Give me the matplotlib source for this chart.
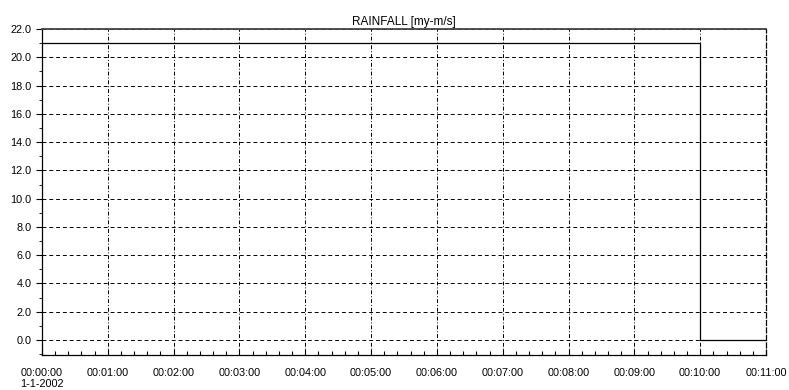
import numpy as np
import matplotlib.pyplot as plt
from matplotlib.ticker import MultipleLocator

# rainfall step series (minutes, my-m/s)
t_min = [0, 10, 10, 11]
rain = [21.0, 21.0, 0.0, 0.0]
tick_labels = ["00:00:00\n1-1-2002", "00:01:00", "00:02:00", "00:03:00", "00:04:00",
               "00:05:00", "00:06:00", "00:07:00", "00:08:00", "00:09:00",
               "00:10:00", "00:11:00"]

plt.rcParams['font.family'] = ['Liberation Sans', 'DejaVu Sans']

fig = plt.figure(figsize=(7.89, 3.90), dpi=100)
ax = fig.add_axes([42/789, 1 - 355/390, (766-42)/789, (355-29)/390])

ax.plot(t_min, rain, color="black", lw=0.9)

ax.set_xlim(0, 11)
ax.set_ylim(-1.06, 22)
ax.set_xticks(np.arange(0, 12))
ax.set_xticklabels(tick_labels, fontsize=7.8, ha="center", va="top")
ax.get_xticklabels()[0].set_multialignment("left")
ax.set_yticks(np.arange(0, 23, 2))
ax.set_yticklabels(["%.1f" % v for v in np.arange(0, 23, 2)], fontsize=7.8)
ax.xaxis.set_minor_locator(MultipleLocator(0.2))
ax.yaxis.set_minor_locator(MultipleLocator(1))
ax.tick_params(axis="x", which="both", direction="in", length=4, width=0.8, pad=9)
ax.tick_params(axis="x", which="minor", length=3)
ax.tick_params(axis="y", which="major", direction="out", length=4, width=0.8)
ax.tick_params(axis="y", which="minor", direction="out", length=2)

ax.grid(True, which="major", axis="y", color="black", linestyle=(0, (4, 3)), lw=0.7)
ax.grid(True, which="major", axis="x", color="black", linestyle=(0, (4, 2, 1, 2)), lw=0.7)
for s in ax.spines.values():
    s.set_linewidth(0.9)
ax.spines["right"].set_linestyle((0, (4, 2)))
ax.spines["top"].set_linewidth(1.3)
ax.spines["top"].set_color("#444444")

ax.set_title("RAINFALL [my-m/s]", fontsize=8.5, pad=3)

fig.savefig("out.png", dpi=100)
